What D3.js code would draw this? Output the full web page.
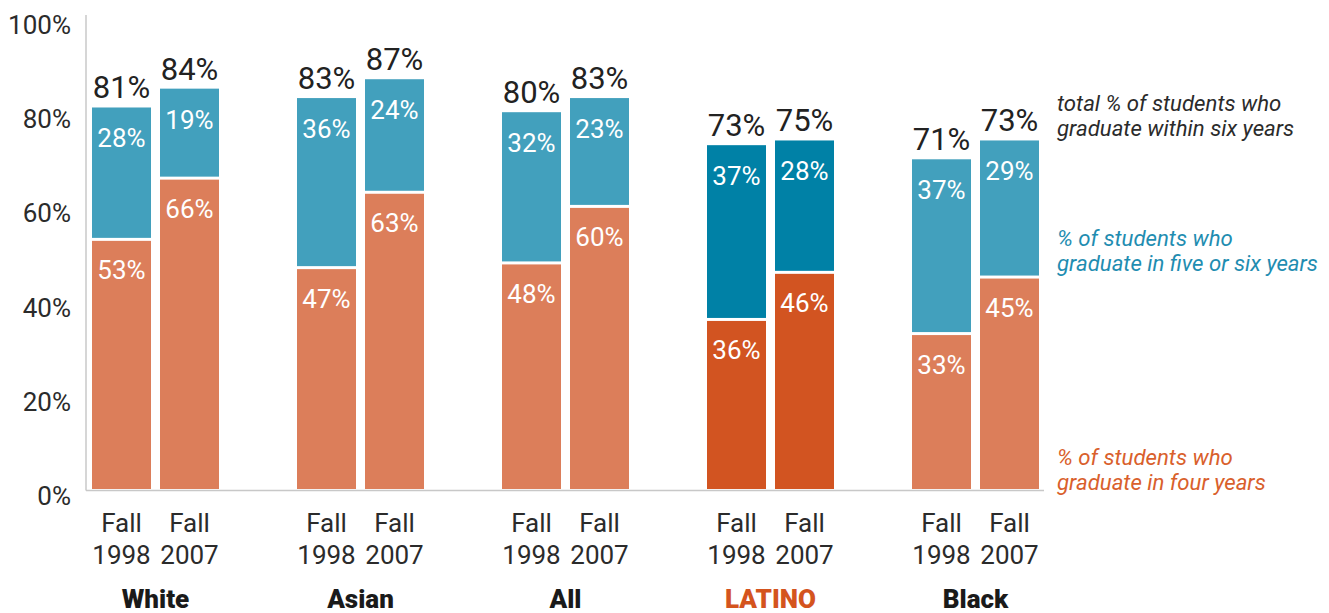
<!DOCTYPE html>
<html>
<head>
<meta charset="utf-8">
<script src="https://cdn.jsdelivr.net/npm/d3@7"></script>
<style>
  body { margin: 0; background: #fff; }
  svg text { font-family: Roboto, "Noto Sans", sans-serif; }
</style>
</head>
<body>
<div id="chart"></div>
<script>
const groups = ["White", "Asian", "All", "LATINO", "Black"];
const cohorts = ["Fall 1998", "Fall 2007"];

// % graduating in four years
const fourYear1998 = [53, 47, 48, 36, 33];
const fourYear2007 = [66, 63, 60, 46, 45];
// % graduating in five or six years
const fiveSix1998 = [28, 36, 32, 37, 37];
const fiveSix2007 = [19, 24, 23, 28, 29];
// total % graduating within six years (as labelled)
const total1998 = [81, 83, 80, 73, 71];
const total2007 = [84, 87, 83, 75, 73];

const yTicks = [0, 20, 40, 60, 80, 100];
const highlight = "LATINO";

const legendLines = [
  {lines: ["total % of students who", "graduate within six years"], color: "#2b2b2b", y: 111},
  {lines: ["% of students who", "graduate in five or six years"], color: "#1f8db1", y: 246},
  {lines: ["% of students who", "graduate in four years"], color: "#d9602c", y: 465}
];

const rows = groups.flatMap((g, i) => [
  {group: g, cohort: cohorts[0], four: fourYear1998[i], fiveSix: fiveSix1998[i], total: total1998[i]},
  {group: g, cohort: cohorts[1], four: fourYear2007[i], fiveSix: fiveSix2007[i], total: total2007[i]}
]);

const stacked = d3.stack().keys(["four", "fiveSix"])(rows);

const svg = d3.select("#chart")
  .append("svg")
  .attr("width", 1329)
  .attr("height", 613);

const x0 = d3.scaleBand().domain(groups).range([53, 1078]);
const x1 = d3.scaleBand().domain(cohorts).range([39, 166]).paddingInner(9 / 68);
const y = d3.scaleLinear().domain([0, 100]).range([489, 18]);

const colors = {
  four: {normal: "#dc7e5a", dark: "#d25421"},
  fiveSix: {normal: "#42a0bd", dark: "#0081a6"}
};

// y axis labels
const yAxis = svg.append("g")
  .attr("transform", "translate(86,0)")
  .call(d3.axisLeft(y).tickValues(yTicks).tickSize(0).tickPadding(15).tickFormat(d => d + "%"));
yAxis.select(".domain").remove();
yAxis.selectAll("text")
  .attr("dy", "0.9em")
  .attr("y", -8)
  .style("font-size", "26px")
  .style("font-family", "Roboto")
  .attr("fill", "#2b2b2b");

// axis lines
svg.append("line")
  .attr("x1", 86).attr("x2", 86)
  .attr("y1", 15).attr("y2", y(0) + 1.5)
  .attr("stroke", "#c8c8c8").attr("stroke-width", 1.5);
svg.append("line")
  .attr("x1", 86).attr("x2", 1044)
  .attr("y1", y(0) + 1.5).attr("y2", y(0) + 1.5)
  .attr("stroke", "#c8c8c8").attr("stroke-width", 1.5);

const bx = d => x0(d.data.group) + x1(d.data.cohort);
const gap = 1.5;

// bar segments
svg.append("g").selectAll("g")
  .data(stacked)
  .join("g")
  .each(function(layer) {
    const key = layer.key;
    d3.select(this).selectAll("rect")
      .data(layer)
      .join("rect")
      .attr("x", bx)
      .attr("width", x1.bandwidth())
      .attr("y", d => y(d[1]) + (key === "four" ? gap : 0))
      .attr("height", d => y(d[0]) - y(d[1]) - gap)
      .attr("fill", d => d.data.group === highlight ? colors[key].dark : colors[key].normal);

    d3.select(this).selectAll("text")
      .data(layer)
      .join("text")
      .attr("x", d => bx(d) + x1.bandwidth() / 2)
      .attr("y", d => y(d[1]) + 40)
      .attr("text-anchor", "middle")
      .attr("fill", "#fff")
      .style("font-size", "26px")
      .text(d => d.data[key] + "%");
  });

// totals above bars
svg.append("g").selectAll("text")
  .data(stacked[1])
  .join("text")
  .attr("x", d => bx(d) + x1.bandwidth() / 2)
  .attr("y", d => y(d[1]) - 9)
  .attr("text-anchor", "middle")
  .attr("fill", "#222")
  .style("font-size", "31px")
  .text(d => d.data.total + "%");

// cohort labels
const cohortLabels = svg.append("g").selectAll("text")
  .data(rows)
  .join("text")
  .attr("x", d => x0(d.group) + x1(d.cohort) + x1.bandwidth() / 2)
  .attr("text-anchor", "middle")
  .attr("fill", "#2b2b2b")
  .style("font-size", "26px");
cohortLabels.append("tspan")
  .attr("x", d => x0(d.group) + x1(d.cohort) + x1.bandwidth() / 2)
  .attr("y", 532)
  .text(d => d.cohort.split(" ")[0]);
cohortLabels.append("tspan")
  .attr("x", d => x0(d.group) + x1(d.cohort) + x1.bandwidth() / 2)
  .attr("y", 564)
  .text(d => d.cohort.split(" ")[1]);

// group labels
svg.append("g").selectAll("text")
  .data(groups)
  .join("text")
  .attr("x", d => x0(d) + x0.bandwidth() / 2)
  .attr("y", 608)
  .attr("text-anchor", "middle")
  .attr("fill", d => d === highlight ? "#d4541e" : "#1a1a1a")
  .style("font-size", "26px")
  .style("font-weight", 900)
  .text(d => d);

// legend notes
const legend = svg.append("g").selectAll("text")
  .data(legendLines)
  .join("text")
  .attr("fill", d => d.color)
  .style("font-size", "22.2px")
  .style("font-style", "italic");
legend.selectAll("tspan")
  .data(d => d.lines.map((t, i) => ({t, y: d.y + i * 25})))
  .join("tspan")
  .attr("x", 1057)
  .attr("y", d => d.y)
  .text(d => d.t);
</script>
</body>
</html>
